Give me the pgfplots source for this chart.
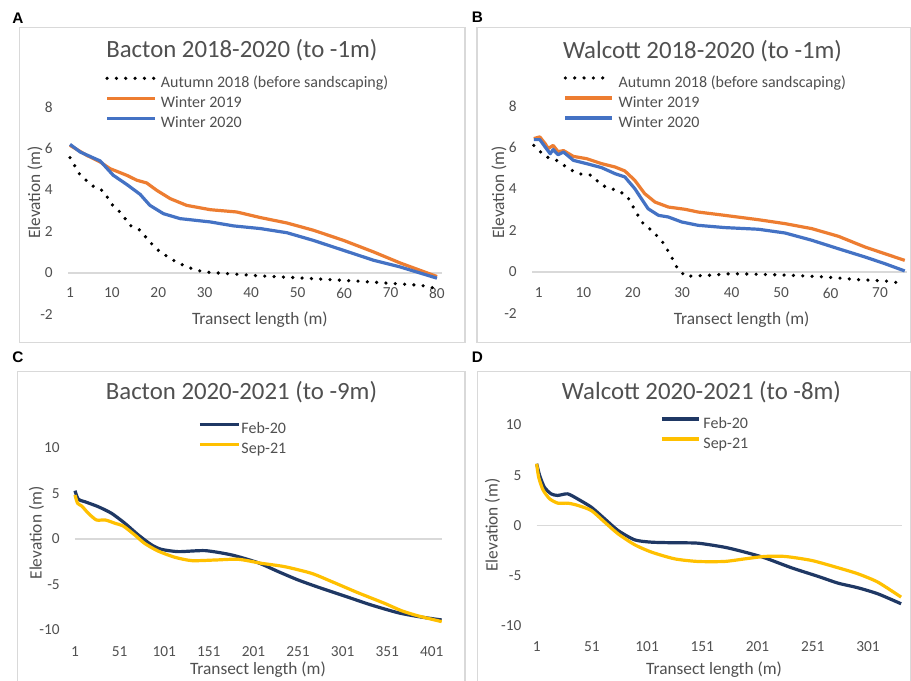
\documentclass[border=0pt]{standalone}
\usepackage{pgfplots}
\pgfplotsset{compat=1.18}
\usepackage{fontspec}
\setmainfont{Carlito}
\newfontfamily\letterfont{Liberation Sans}
\definecolor{xorange}{HTML}{ED7D31}
\definecolor{xblue}{HTML}{4472C4}
\definecolor{xnavy}{HTML}{1F3864}
\definecolor{xgold}{HTML}{FFC000}
\definecolor{tgray}{HTML}{505050}
\definecolor{bgray}{HTML}{D9D9D9}
\newcommand{\labfont}{\fontsize{13}{15}\selectfont}
\pgfplotsset{
  panel/.style={
    scale only axis, anchor=south west,
    axis line style={draw=none},
    tick style={draw=none},
    /pgf/number format/assume math mode=true,
    ticklabel style={font=\fontsize{11.5}{13}\selectfont, text=tgray},
    yticklabel style={anchor=east, inner sep=0pt, xshift=-11.25pt},
    xticklabel style={anchor=center, inner sep=0pt},
    clip=false,
    title style={font=\fontsize{18.6}{20}\selectfont, text=tgray, anchor=base, inner sep=0pt},
    legend cell align=left,
    legend style={draw=none, fill=none, inner sep=0pt, anchor=north west,
      font=\fontsize{12}{14}\selectfont, text=tgray, row sep=3pt,
      nodes={inner sep=0pt, text height=9pt, text depth=3pt}},
    every axis plot/.append style={line width=2.4pt, line join=round},
  },
  dotline/.style={black, line width=2.7pt, line cap=round, dash pattern=on 0pt off 7pt},
}
\begin{document}
\begin{tikzpicture}
\useasboundingbox (0pt,0pt) rectangle (683.25pt,510.75pt);
\fill[white] (0pt,0pt) rectangle (683.25pt,510.75pt);
% panel frames
\draw[bgray, line width=0.9pt] (14.625pt,253.725pt) rectangle (348.75pt,489.975pt);
\draw[bgray, line width=0.9pt] (357.75pt,253.725pt) rectangle (682.875pt,489.975pt);
\draw[bgray, line width=0.9pt] (13.125pt,-10pt) rectangle (348.75pt,231.975pt);
\draw[bgray, line width=0.9pt] (358.275pt,-10pt) rectangle (682.875pt,231.975pt);
% panel letters
\node[font=\letterfont\bfseries\fontsize{11.5}{12}\selectfont] at (13.5pt,497.25pt) {A};
\node[font=\letterfont\bfseries\fontsize{11.5}{12}\selectfont] at (358.1pt,497.6pt) {B};
\node[font=\letterfont\bfseries\fontsize{11.5}{12}\selectfont] at (13.5pt,243pt) {C};
\node[font=\letterfont\bfseries\fontsize{11.5}{12}\selectfont] at (358.1pt,243pt) {D};

% ---------------- A ----------------
\begin{axis}[panel, at={(51pt,274.875pt)}, width=280.5pt, height=155.625pt,
  xmin=0.57, xmax=81.08, ymin=-2, ymax=8,
  xtick={1,10,20,30,40,50,60,70,80}, ytick={-2,0,2,4,6,8},
  xticklabel style={yshift=16.1pt},
  title={Bacton 2018-2020 (to -1m)},
  title style={at={(axis description cs:0.465,1.202)}},
  xlabel={Transect length (m)}, ylabel={Elevation (m)},
  every axis x label/.style={at={(axis description cs:0.513,-0.0506)}, anchor=base, font=\labfont, text=tgray, inner sep=0pt},
  every axis y label/.style={at={(axis description cs:-0.0882,0.588)}, rotate=90, anchor=center, font=\labfont, text=tgray, inner sep=0pt},
  legend style={at={(axis description cs:0.0989,1.153)},
    /tikz/every odd column/.append style={column sep=3pt}},
  legend image code/.code={\draw[#1] (0pt,3.9pt) -- (36pt,3.9pt);},
]
\draw[bgray, line width=0.8pt] (axis cs:0.57,0) -- (axis cs:81.08,0);
\addplot[dotline] coordinates {(1,5.56)(3.2,4.71)(6,4.18)(8.2,3.95)(10,3.31)(12.1,2.86)(13.9,2.30)(16.1,2.06)(18.2,1.49)(20.4,1.01)(23.3,0.61)(26.1,0.29)(29.7,0.05)(34.8,-0.03)(42,-0.14)(49.1,-0.22)(56.3,-0.31)(63.5,-0.4)(70.7,-0.51)(76.4,-0.59)(80,-0.75)};
\addlegendentry{Autumn 2018 (before sandscaping)}
\addplot[xorange] coordinates {(1,6.15)(4.6,5.67)(7.5,5.35)(9.6,5.03)(13.2,4.71)(15.4,4.47)(17.5,4.34)(19.7,3.98)(22.6,3.58)(26.1,3.26)(31.2,3.05)(36.9,2.94)(42,2.67)(47.7,2.41)(53.4,2.06)(59.9,1.57)(66.4,1.01)(72.1,0.48)(80,-0.17)};
\addlegendentry{Winter 2019}
\addplot[xblue] coordinates {(1,6.2)(3.2,5.83)(7.5,5.4)(10.3,4.71)(13.2,4.27)(16.1,3.79)(18.2,3.26)(21.1,2.86)(24.7,2.62)(31.2,2.46)(36.2,2.27)(42,2.14)(47.7,1.94)(53.4,1.57)(59.9,1.09)(66.4,0.61)(72.1,0.29)(80,-0.25)};
\addlegendentry{Winter 2020}
\end{axis}

% ---------------- B ----------------
\begin{axis}[panel, at={(399pt,275.625pt)}, width=281.25pt, height=155.625pt,
  xmin=-0.375, xmax=75.46, ymin=-2, ymax=8,
  xtick={1,10,20,30,40,50,60,70}, ytick={-2,0,2,4,6,8},
  xticklabel style={yshift=15.4pt},
  title={Walcott 2018-2020 (to -1m)},
  title style={at={(axis description cs:0.4547,1.189)}},
  xlabel={Transect length (m)}, ylabel={Elevation (m)},
  every axis x label/.style={at={(axis description cs:0.559,-0.0554)}, anchor=base, font=\labfont, text=tgray, inner sep=0pt},
  every axis y label/.style={at={(axis description cs:-0.088,0.583)}, rotate=90, anchor=center, font=\labfont, text=tgray, inner sep=0pt},
  legend style={at={(axis description cs:0.0835,1.150)},
    /tikz/every odd column/.append style={column sep=3.5pt}},
  legend image code/.code={\draw[#1] (0pt,3.9pt) -- (35pt,3.9pt);},
]
\draw[bgray, line width=0.8pt] (axis cs:-0.375,0) -- (axis cs:75.46,0);
\addplot[dotline] coordinates {(0,6.1)(2.3,5.57)(4.9,5.35)(7,4.98)(9,4.74)(11.7,4.66)(13.7,4.18)(17.1,3.9)(18.8,3.69)(20.1,3.13)(21.8,2.41)(23.8,2.0)(25.8,1.53)(27.5,0.88)(28.9,0.24)(30.6,-0.21)(35.3,-0.16)(40,-0.08)(45.4,-0.11)(52.1,-0.16)(58.9,-0.24)(65.6,-0.37)(71,-0.43)(75,-0.56)};
\addlegendentry{Autumn 2018 (before sandscaping)}
\addplot[xorange] coordinates {(0,6.43)(1.2,6.51)(2.3,6.18)(2.9,5.95)(3.9,6.1)(4.9,5.8)(6,5.85)(8,5.57)(10.7,5.46)(13.7,5.22)(16.4,5.06)(18.4,4.87)(20.4,4.42)(22.4,3.78)(24.5,3.37)(27.2,3.13)(30.6,3.02)(33.2,2.89)(38.6,2.73)(45.4,2.52)(50.8,2.33)(56.2,2.09)(61.6,1.72)(67,1.2)(71,0.88)(75,0.56)};
\addlegendentry{Winter 2019}
\addplot[xblue] coordinates {(0,6.38)(1.2,6.38)(2.3,6.02)(3.3,5.7)(3.9,5.9)(4.9,5.65)(6,5.78)(8,5.38)(10.7,5.22)(13.7,5.03)(16.4,4.74)(18.4,4.58)(20.4,4.02)(23.1,3.05)(25.2,2.73)(27.2,2.65)(29.9,2.41)(33.2,2.25)(38.6,2.14)(45.4,2.06)(50.8,1.88)(56.2,1.53)(61.6,1.12)(67,0.72)(71,0.40)(75,0.05)};
\addlegendentry{Winter 2020}
\end{axis}

% ---------------- C ----------------
\begin{axis}[panel, at={(56.25pt,38.25pt)}, width=275pt, height=136.5pt,
  xmin=1, xmax=412, ymin=-10, ymax=10,
  xtick={1,51,101,151,201,251,301,351,401}, ytick={-10,-5,0,5,10},
  xticklabel style={yshift=-16.5pt},
  title={Bacton 2020-2021 (to -9m)},
  title style={at={(axis description cs:0.454,1.2198)}},
  xlabel={Transect length (m)}, ylabel={Elevation (m)},
  every axis x label/.style={at={(axis description cs:0.499,-0.2418)}, anchor=base, font=\labfont, text=tgray, inner sep=0pt},
  every axis y label/.style={at={(axis description cs:-0.105,0.533)}, rotate=90, anchor=center, font=\labfont, text=tgray, inner sep=0pt},
  legend style={at={(axis description cs:0.3354,1.147)},
    /tikz/every odd column/.append style={column sep=1pt}},
  legend image code/.code={\draw[#1] (0pt,3.9pt) -- (29pt,3.9pt);},
]
\draw[bgray, line width=0.8pt] (axis cs:1,0) -- (axis cs:412,0);
\addplot[xnavy, smooth, tension=0.4] coordinates {(1,5.31)(4.7,4.36)(12,4.1)(27,3.55)(42,2.82)(57,1.72)(72,0.44)(87,-0.66)(98,-1.14)(117,-1.39)(147,-1.28)(177,-1.76)(206,-2.6)(229,-3.59)(251,-4.5)(274,-5.31)(303,-6.26)(333,-7.25)(363,-8.1)(386,-8.53)(412,-8.9)};
\addlegendentry{Feb-20}
\addplot[xgold, smooth, tension=0.4] coordinates {(1,4.84)(3.9,3.92)(8.5,3.63)(16,2.82)(25,2.09)(35,2.09)(46,1.72)(55,1.43)(68,0.44)(79,-0.48)(94,-1.32)(113,-2.01)(132,-2.38)(158,-2.31)(184,-2.23)(210,-2.67)(236,-3.04)(266,-3.77)(289,-4.69)(318,-5.9)(348,-7.07)(367,-7.88)(386,-8.46)(412,-9.08)};
\addlegendentry{Sep-21}
\end{axis}

% ---------------- D ----------------
\begin{axis}[panel, at={(402.5pt,41.25pt)}, width=273.75pt, height=150.75pt,
  xmin=1, xmax=331.5, ymin=-10, ymax=10,
  xtick={1,51,101,151,201,251,301}, ytick={-10,-5,0,5,10},
  xticklabel style={yshift=-15.75pt},
  title={Walcott 2020-2021 (to -8m)},
  title style={at={(axis description cs:0.4515,1.0846)}},
  xlabel={Transect length (m)}, ylabel={Elevation (m)},
  every axis x label/.style={at={(axis description cs:0.486,-0.239)}, anchor=base, font=\labfont, text=tgray, inner sep=0pt},
  every axis y label/.style={at={(axis description cs:-0.121,0.502)}, rotate=90, anchor=center, font=\labfont, text=tgray, inner sep=0pt},
  legend style={at={(axis description cs:0.3378,1.045)},
    /tikz/every odd column/.append style={column sep=2pt}},
  legend image code/.code={\draw[#1] (0pt,3.9pt) -- (28pt,3.9pt);},
]
\draw[bgray, line width=0.8pt] (axis cs:1,0) -- (axis cs:331.5,0);
\addplot[xnavy, smooth, tension=0.4] coordinates {(1,6.14)(3.7,4.98)(8,3.81)(14,3.15)(20,2.99)(29,3.15)(38,2.65)(50.5,1.82)(62.6,0.66)(74.7,-0.5)(89.8,-1.43)(105,-1.66)(126,-1.72)(147,-1.76)(171,-2.16)(189.5,-2.65)(207.6,-3.22)(231.8,-4.21)(256,-5.07)(274,-5.74)(292,-6.2)(310,-6.8)(331,-7.79)};
\addlegendentry{Feb-20}
\addplot[xgold, smooth, tension=0.4] coordinates {(1,6.14)(2.8,4.81)(6.7,3.55)(12.8,2.65)(20.3,2.22)(29.4,2.22)(38.5,1.99)(50.5,1.49)(62.6,0.33)(74.7,-0.83)(89.8,-1.92)(105,-2.65)(126,-3.32)(147,-3.58)(171,-3.58)(189.5,-3.32)(207.6,-3.08)(225.8,-3.08)(250,-3.48)(274,-4.21)(292,-4.81)(310,-5.64)(331,-7.13)};
\addlegendentry{Sep-21}
\end{axis}
\end{tikzpicture}
\end{document}
